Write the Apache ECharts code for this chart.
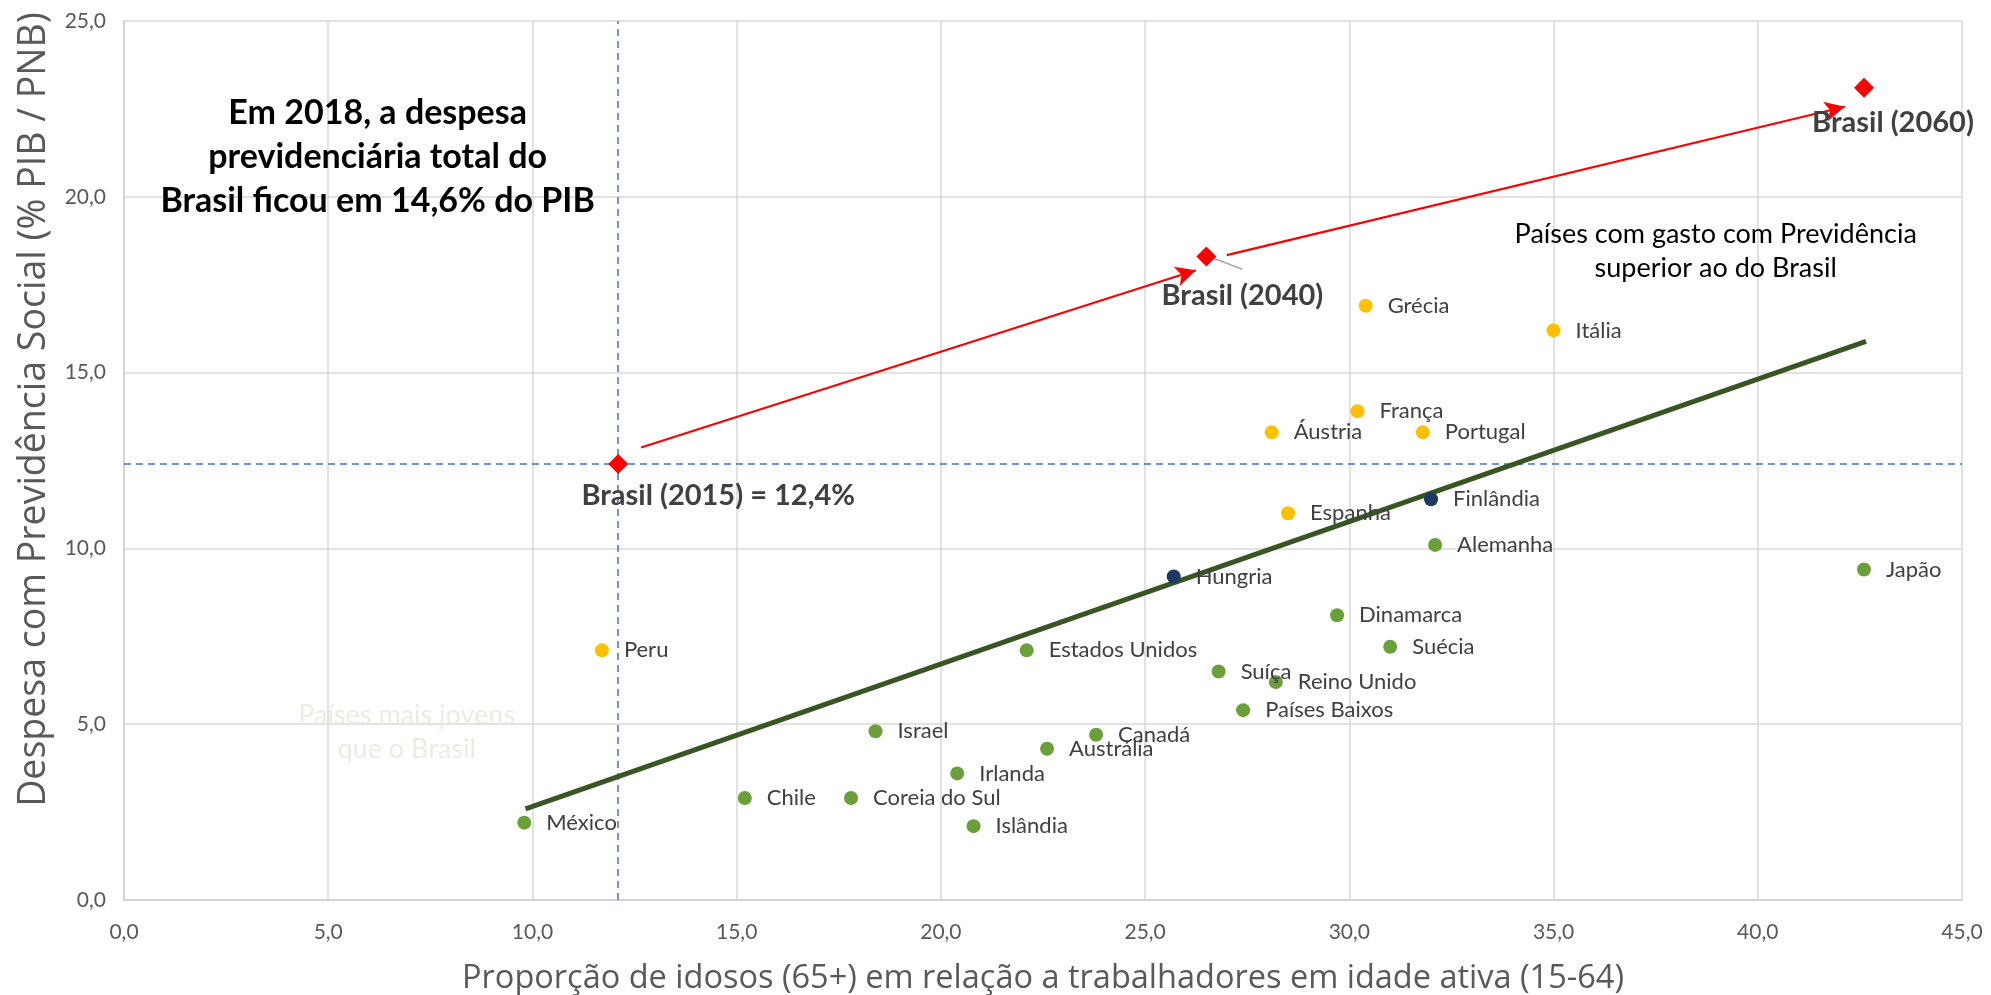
<!DOCTYPE html>
<html><head><meta charset="utf-8">
<script src="https://cdn.jsdelivr.net/npm/echarts@6/dist/echarts.min.js"></script>
<style>html,body{margin:0;padding:0;background:#fff}#c{width:1991px;height:995px}</style>
</head><body><div id="c"></div>
<script>
// ---- data ----
const greenNames = ['México','Chile','Coreia do Sul','Israel','Irlanda','Islândia','Austrália','Estados Unidos','Canadá','Suíça','Países Baixos','Reino Unido','Dinamarca','Suécia','Alemanha','Japão'];
const greenX = [9.8,15.2,17.8,18.4,20.4,20.8,22.6,22.1,23.8,26.8,27.4,28.2,29.7,31.0,32.1,42.6];
const greenY = [2.2,2.9,2.9,4.8,3.6,2.1,4.3,7.1,4.7,6.5,5.4,6.2,8.1,7.2,10.1,9.4];

const yellowNames = ['Peru','Espanha','Áustria','França','Portugal','Grécia','Itália'];
const yellowX = [11.7,28.5,28.1,30.2,31.8,30.4,35.0];
const yellowY = [7.1,11.0,13.3,13.9,13.3,16.9,16.2];

const navyNames = ['Hungria','Finlândia'];
const navyX = [25.7,32.0];
const navyY = [9.2,11.4];

const brasilNames = ['Brasil (2015) = 12,4%','Brasil (2040)','Brasil (2060)'];
const brasilX = [12.1,26.5,42.6];
const brasilY = [12.4,18.3,23.1];

const trendX = [9.83,42.65];
const trendY = [2.59,15.89];

// arrows [x0,y0,x1,y1]
const arrowSegments = [[12.66,12.87,26.24,17.91],[27.0,18.34,42.13,22.56]];
const leaderSegment = [26.5,18.33,27.38,17.94];

const refX = 12.1, refY = 12.4;

const xName = 'Proporção de idosos (65+) em relação a trabalhadores em idade ativa (15-64)';
const yName = 'Despesa com Previdência Social (% PIB / PNB)';
const noteTop = 'Em 2018, a despesa\nprevidenciária total do\nBrasil ficou em 14,6% do PIB';
const noteRight = 'Países com gasto com Previdência\nsuperior ao do Brasil';
const noteLeft = 'Países mais jovens\nque o Brasil';

// ---- chart ----
const fmt = v => v.toFixed(1).replace('.', ',');
const pts = (names, xs, ys) => names.map((n,i)=>({name:n, value:[xs[i], ys[i]]}));
const countryLabel = {show:true, position:'right', distance:15, formatter:p=>p.name, color:'#404040', fontFamily:'Lato', fontSize:22};

const brasilLabelOffsets = [[100,32],[36,39],[29,35]];
const brasilData = pts(brasilNames, brasilX, brasilY).map((d,i)=>Object.assign(d,{label:{offset:brasilLabelOffsets[i]}}));

const chart = echarts.init(document.getElementById('c'), null, {renderer:'canvas'});
const option = {
  animation:false,
  backgroundColor:'#fff',
  grid:{left:124, right:29, top:21, bottom:95, containLabel:false, outerBoundsMode:'none'},
  xAxis:{type:'value', min:0, max:45, interval:5,
    name:xName, nameLocation:'middle', nameGap:62,
    nameTextStyle:{fontFamily:'Open Sans', fontSize:32.5, color:'#595959'},
    axisLine:{show:true, lineStyle:{color:'#d0d0d0', width:1.5}},
    axisTick:{show:false},
    axisLabel:{formatter:fmt, fontFamily:'Lato', fontSize:21, color:'#595959', margin:22},
    splitLine:{show:true, lineStyle:{color:'#d9d9d9', width:1.5}}},
  yAxis:{type:'value', min:0, max:25, interval:5,
    name:yName, nameLocation:'middle', nameGap:71,
    nameTextStyle:{fontFamily:'Open Sans', fontSize:37.5, color:'#595959', padding:[0,0,0,102]},
    axisLine:{show:true, lineStyle:{color:'#d0d0d0', width:1.5}},
    axisTick:{show:false},
    axisLabel:{formatter:fmt, fontFamily:'Lato', fontSize:21, color:'#595959', margin:18},
    splitLine:{show:true, lineStyle:{color:'#d9d9d9', width:1.5}}},
  series:[
    {type:'line', name:'trend', data:trendX.map((x,i)=>[x,trendY[i]]), symbol:'none', z:3,
      lineStyle:{color:'#375623', width:5}, silent:true,
      markLine:{silent:true, symbol:'none', z:1, label:{show:false},
        lineStyle:{type:[7,5], color:'#4472C4', width:1.5},
        data:[{xAxis:refX},{yAxis:refY}]}},
    {type:'scatter', name:'green', data:pts(greenNames,greenX,greenY), symbolSize:14, z:5,
      itemStyle:{color:'#6A9F3A', opacity:1}, label:countryLabel},
    {type:'scatter', name:'yellow', data:pts(yellowNames,yellowX,yellowY), symbolSize:14, z:5,
      itemStyle:{color:'#FFC000', opacity:1}, label:countryLabel},
    {type:'scatter', name:'navy', data:pts(navyNames,navyX,navyY), symbolSize:14, z:5,
      itemStyle:{color:'#1F3864', opacity:1}, label:countryLabel},
    {type:'scatter', name:'brasil', data:brasilData, symbol:'diamond', symbolSize:20, z:6,
      itemStyle:{color:'#FF0000', opacity:1},
      label:{show:true, position:'inside', formatter:p=>p.name, color:'#404040', fontFamily:'Lato', fontWeight:'bold', fontSize:29},
      markLine:{silent:true, z:4, label:{show:false},
        data:[
          ...arrowSegments.map(s=>[{coord:[s[0],s[1]], symbol:'none'},{coord:[s[2],s[3]], symbol:'arrow', symbolSize:[15,20]}]),
          [{coord:[leaderSegment[0],leaderSegment[1]], symbol:'none', lineStyle:{color:'#a6a6a6', width:1.5}},{coord:[leaderSegment[2],leaderSegment[3]], symbol:'none'}]
        ],
        lineStyle:{color:'#FF0000', width:2.2, type:'solid'}}}
  ]
};
chart.setOption(option);

const px = (x,y)=>chart.convertToPixel({gridIndex:0},[x,y]);
const t1 = px(6.21, 21.14), t2 = px(38.97, 18.44), t3 = px(6.92, 4.78);
chart.setOption({graphic:[
  {type:'text', x:t1[0], y:t1[1], z:10, style:{text:noteTop, fill:'#000', font:'bold 34px Lato', textAlign:'center', textVerticalAlign:'middle', lineHeight:44}},
  {type:'text', x:t2[0], y:t2[1], z:10, style:{text:noteRight, fill:'#000', font:'27px Lato', textAlign:'center', textVerticalAlign:'middle', lineHeight:34}},
  {type:'text', x:t3[0], y:t3[1], z:10, style:{text:noteLeft, fill:'#eeece1', font:'27px Lato', textAlign:'center', textVerticalAlign:'middle', lineHeight:34}}
]});
</script></body></html>
